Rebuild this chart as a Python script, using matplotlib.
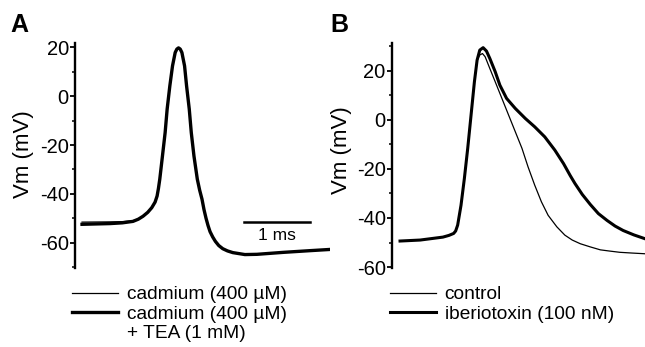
import numpy as np
import matplotlib
matplotlib.use('Agg')
import matplotlib.pyplot as plt
from matplotlib.lines import Line2D
from matplotlib.ticker import MultipleLocator

plt.rcParams['font.family'] = ['Liberation Sans', 'DejaVu Sans']
plt.rcParams['axes.unicode_minus'] = False

# panel A: time (ms) and Vm (mV)
tA = [0, 0.42, 0.60, 0.76, 0.84, 0.91, 0.98, 1.04, 1.09, 1.12, 1.14, 1.16, 1.20,
      1.24, 1.27, 1.31, 1.35, 1.39, 1.415, 1.44, 1.465, 1.49, 1.53, 1.56, 1.60,
      1.63, 1.67, 1.72, 1.755, 1.79, 1.82, 1.85, 1.88, 1.91, 1.95, 1.99, 2.04,
      2.10, 2.17, 2.25, 2.43, 2.61, 3.00, 3.40, 3.70]
vA_tea = [-52.5, -52.2, -51.9, -51.3, -50.4, -49.2, -47.6, -45.7, -43.4, -40.9,
          -37.8, -34.0, -24.5, -14.9, -5.3, 4.2, 12.4, 17.9, 19.3, 19.8, 19.3,
          17.9, 12.4, 4.2, -5.3, -14.9, -24.5, -34.0, -38.5, -42.2, -46.5, -50.0,
          -53.0, -55.5, -57.7, -59.5, -61.2, -62.5, -63.4, -64.1, -64.9, -64.8,
          -64.0, -63.3, -62.8]
vA_cd = [-51.6, -51.5, -51.4, -51.0] + vA_tea[4:]

# panel B
tB_rise = [0, 0.30, 0.64, 0.73, 0.80, 0.83, 0.86, 0.91, 0.96, 1.01, 1.06, 1.11, 1.15]
vB_rise = [-49.4, -49.0, -47.8, -47.1, -46.3, -45.3, -42.9, -34.8, -23.9, -11.6,
           2.0, 15.6, 24.4]
tB_ctrl = [1.19, 1.23, 1.27, 1.34, 1.42, 1.52, 1.62, 1.72, 1.82, 1.91, 2.01, 2.11,
           2.21, 2.34, 2.46, 2.57, 2.69, 2.84, 2.99, 3.13, 3.28, 3.46, 3.66]
vB_ctrl = [26.5, 27.1, 25.8, 21.0, 15.6, 8.8, 2.0, -4.8, -11.6, -19.1, -26.6,
           -33.4, -38.9, -43.6, -47.0, -49.0, -50.5, -51.8, -53.0, -53.5, -54.0,
           -54.3, -54.6]
tB_ibtx = [1.19, 1.24, 1.29, 1.34, 1.42, 1.49, 1.59, 1.72, 1.87, 2.01, 2.16, 2.31,
           2.44, 2.54, 2.61, 2.72, 2.84, 2.96, 3.09, 3.21, 3.33, 3.49, 3.66]
vB_ibtx = [28.5, 29.5, 28.1, 25.1, 19.7, 14.2, 8.8, 4.7, 0.6, -2.8, -6.9, -12.3,
           -17.8, -22.7, -25.9, -30.4, -34.5, -38.2, -41.0, -43.3, -45.1, -46.9,
           -48.5]

scalebar_t = [2.41, 3.40]
scalebar_v = [-51.6, -51.6]

fig = plt.figure(figsize=(6.45, 3.47), dpi=100)
H = 347.0
W = 645.0
bot = (H - 267.5) / H
hgt = 224.5 / H
axA = fig.add_axes([75 / W, bot, 255 / W, hgt])
axB = fig.add_axes([392 / W, bot, 253 / W, hgt])

thin = dict(color='black', lw=0.9, solid_joinstyle='round')
thick = dict(color='black', lw=2.4, solid_joinstyle='round')

lA1, = axA.plot(tA, vA_cd, **thin)
lA2, = axA.plot(tA, vA_tea, **thick)
axA.plot(scalebar_t, scalebar_v, color='black', lw=1.8)
axA.text(np.mean(scalebar_t), -57.0, '1 ms', ha='center', va='center', fontsize=12.5)

lB1, = axB.plot(tB_rise + tB_ctrl, vB_rise + vB_ctrl, **thin)
lB2, = axB.plot(tB_rise + tB_ibtx, vB_rise + vB_ibtx, color='black', lw=2.2,
                solid_joinstyle='round')

axA.set_xlim(-0.105, 3.70)
axA.set_ylim(-70.2, 21.8)
axB.set_xlim(-0.12, 3.656)
axB.set_ylim(-60.2, 31.4)

for ax in (axA, axB):
    for s in ('top', 'right', 'bottom'):
        ax.spines[s].set_visible(False)
    ax.spines['left'].set_linewidth(1.7)
    ax.set_xticks([])
    ax.yaxis.set_major_locator(MultipleLocator(20))
    ax.yaxis.set_minor_locator(MultipleLocator(10))
    ax.tick_params(axis='y', which='major', direction='out', length=3.5, width=1.3,
                   labelsize=14.5, pad=1)
    ax.tick_params(axis='y', which='minor', direction='out', length=2.2, width=1.1)
    ax.set_ylabel('Vm (mV)', fontsize=16)
    ax.patch.set_visible(False)

axA.set_yticks([-60, -40, -20, 0, 20])
axB.set_yticks([-60, -40, -20, 0, 20])
axA.yaxis.set_label_coords(-0.161, 0.507)
axB.yaxis.set_label_coords(-0.158, 0.523)

fig.text(10 / W, 1 - 32 / H, 'A', fontsize=18, fontweight='bold', ha='left', va='baseline')
fig.text(330 / W, 1 - 32 / H, 'B', fontsize=18, fontweight='bold', ha='left', va='baseline')

blank = Line2D([], [], color='none')
leg_kw = dict(loc='upper left', frameon=False, fontsize=13.8, handlelength=2.4,
              handletextpad=0.45, labelspacing=0.1, borderpad=0, borderaxespad=0)
fig.legend([lA1, lA2, blank],
           ['cadmium (400 \u00b5M)', 'cadmium (400 \u00b5M)', '+ TEA (1 mM)'],
           bbox_to_anchor=(72 / W, 1 - 286 / H), **leg_kw)
fig.legend([lB1, lB2],
           ['control', 'iberiotoxin (100 nM)'],
           bbox_to_anchor=(390 / W, 1 - 286 / H), **leg_kw)

fig.savefig('out.png', dpi=100)
